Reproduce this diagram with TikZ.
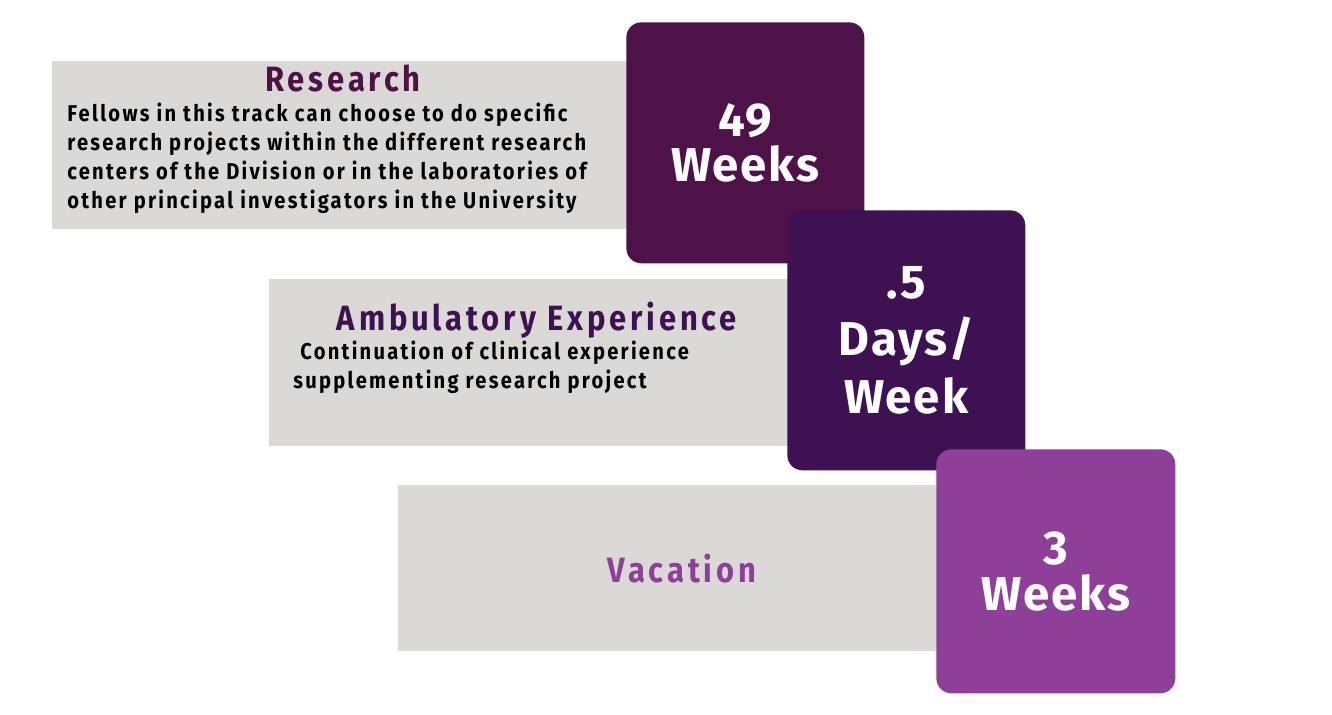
\documentclass[tikz,border=0pt]{standalone}
\usepackage{fontspec}
\setmainfont{Fira Sans}[FakeStretch=0.88]
\newfontfamily\tilefont{Fira Sans}[LetterSpace=4]
\usetikzlibrary{positioning}

\definecolor{panelgray}{HTML}{DAD9D5}
\definecolor{plumA}{HTML}{4E1249}
\definecolor{plumB}{HTML}{3D1152}
\definecolor{plumC}{HTML}{8E4099}

\tikzset{
  bar/.style={fill=panelgray, inner sep=0pt, anchor=north west},
  tile/.style={rounded corners=0.3cm, inner sep=0pt, minimum width=4.76cm,
    anchor=north west, text=white, align=center,
    font=\tilefont\bfseries\fontsize{27}{26}\selectfont},
  head/.style={anchor=base, inner sep=0pt,
    font=\bfseries\fontsize{20}{22}\selectfont\addfontfeatures{LetterSpace=11}},
  body/.style={anchor=north west, inner sep=0pt, align=left,
    font=\bfseries\fontsize{13}{16.5}\selectfont\addfontfeatures{LetterSpace=10}}
}

\begin{document}
\begin{tikzpicture}[x=0.02cm, y=-0.02cm]
\useasboundingbox (0,0) rectangle (1332,715);

\node[bar, minimum width=12.96cm, minimum height=3.36cm] (resbar) at (52,61) {};
\node[bar, minimum width=11.62cm, minimum height=3.34cm] (ambbar) at (269,279) {};
\node[bar, minimum width=12.04cm, minimum height=3.32cm] (vacbar) at (398,485) {};

\node[tile, fill=plumA, minimum height=4.82cm] (restile) at (626,22) {49\\Weeks};
\node[tile, fill=plumB, minimum height=5.2cm, font=\tilefont\bfseries\fontsize{27}{32.5}\selectfont]
  (ambtile) at (787,210) {.5\\Days/\\Week};
\node[tile, fill=plumC, minimum height=4.88cm, minimum width=4.78cm] (vactile) at (936,449) {3\\Weeks};

\node[head, text=plumA] (reshead) at (343,92) {Research};
\node[body] (resbody) at (67,103) {Fellows in this track can choose to do specific\\
  research projects within the different research\\
  centers of the Division or in the laboratories of\\
  other principal investigators in the University};

\node[head, text=plumB] (ambhead) at (537,331) {Ambulatory Experience};
\node[body] (ambbody) at (293,341) {\ Continuation of clinical experience\\
  supplementing research project};

\node[head, text=plumC] (vachead) at (682,583) {Vacation};
\end{tikzpicture}
\end{document}
